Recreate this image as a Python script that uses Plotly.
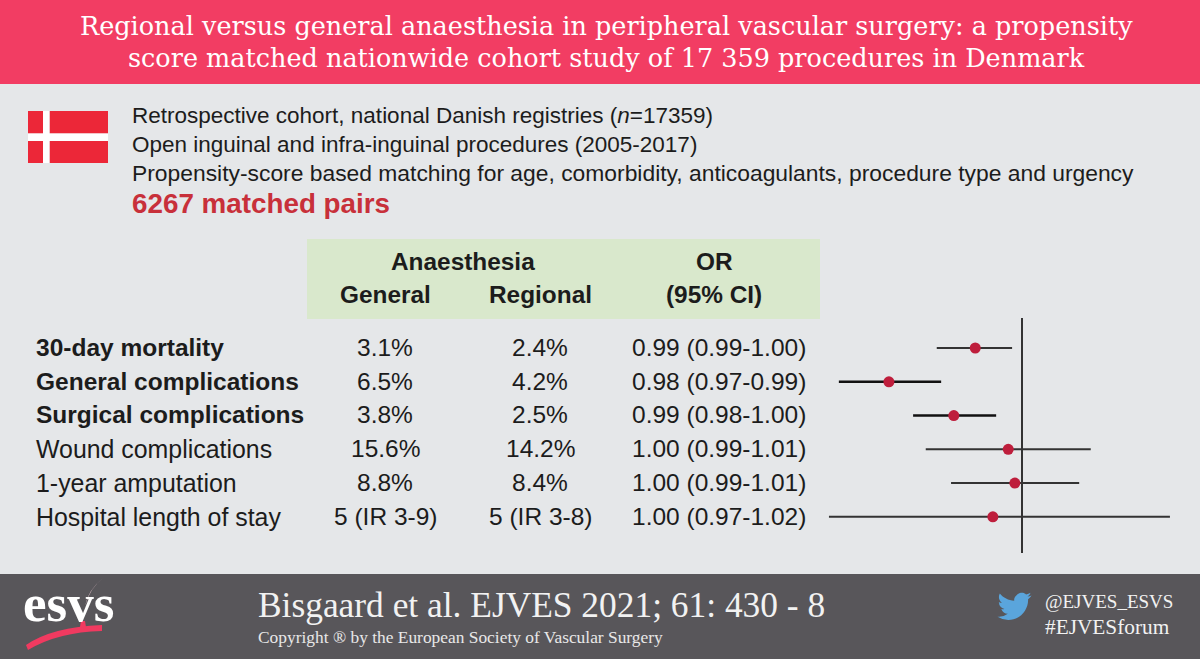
import plotly.graph_objects as go

W, H = 1200, 659

# ---- data ----
title_lines = ["Regional versus general anaesthesia in peripheral vascular surgery: a propensity",
               "score matched nationwide cohort study of 17 359 procedures in Denmark"]
intro_lines = ["Retrospective cohort, national Danish registries (<i>n</i>=17359)",
               "Open inguinal and infra-inguinal procedures (2005-2017)",
               "Propensity-score based matching for age, comorbidity, anticoagulants, procedure type and urgency"]
highlight = "6267 matched pairs"
outcomes = ["30-day mortality", "General complications", "Surgical complications",
            "Wound complications", "1-year amputation", "Hospital length of stay"]
emphasised = [True, True, True, False, False, False]
general = ["3.1%", "6.5%", "3.8%", "15.6%", "8.8%", "5 (IR 3-9)"]
regional = ["2.4%", "4.2%", "2.5%", "14.2%", "8.4%", "5 (IR 3-8)"]
or_text = ["0.99 (0.99-1.00)", "0.98 (0.97-0.99)", "0.99 (0.98-1.00)",
           "1.00 (0.99-1.01)", "1.00 (0.99-1.01)", "1.00 (0.97-1.02)"]
or_point = [0.9915, 0.9758, 0.9876, 0.9975, 0.9987, 0.9947]
or_low = [0.9845, 0.9667, 0.9802, 0.9825, 0.9871, 0.9649]
or_high = [0.9982, 0.9853, 0.9953, 1.0125, 1.0104, 1.0269]
citation = "Bisgaard et al. EJVES 2021; 61: 430 - 8"
copyright_line = "Copyright ® by the European Society of Vascular Surgery"
handles = ["@EJVES_ESVS", "#EJVESforum"]

# ---- style ----
SERIF = "Liberation Serif"
TITLE_SERIF = "DejaVu Serif"
SANS = "Liberation Sans"
RED_BAND = "#F23D63"
GREY_BODY = "#E5E7E9"
GREY_FOOT = "#58565A"
GREEN = "#D9E8CC"
FLAG = "#EC2738"
DOT = "#BE1E3C"
INK = "#1c1c1c"


def px(x):
    return x / W


def py(y):
    return 1 - y / H


def pt(x, y):
    return f"{px(x):.5f} {py(y):.5f}"


def rect(x0, y0, x1, y1, color):
    return dict(type="rect", xref="paper", yref="paper", x0=px(x0), x1=px(x1),
                y0=py(y1), y1=py(y0), fillcolor=color, line_width=0, layer="below")


def label(x, y, text, size, color=INK, anchor="left", family=SANS):
    return dict(x=px(x), y=py(y), xref="paper", yref="paper", text=text, showarrow=False,
                xanchor=anchor, yanchor="middle", align=anchor,
                font=dict(family=family, size=size, color=color))


def bird(ox, oy, s):
    def c(x, y):
        return pt(ox + x * s, oy + y * s)
    return ("M" + c(23.95, 4.57) + " Q" + c(22.6, 5.2) + " " + c(21.13, 5.35)
            + " Q" + c(22.7, 4.4) + " " + c(23.29, 2.62)
            + " Q" + c(21.9, 3.45) + " " + c(20.16, 3.81)
            + " C" + c(18.6, 2.2) + " " + c(16.0, 2.3) + " " + c(14.4, 3.6)
            + " C" + c(12.9, 4.8) + " " + c(11.4, 6.2) + " " + c(11.78, 8.29)
            + " C" + c(7.69, 8.1) + " " + c(4.07, 6.13) + " " + c(1.64, 3.16)
            + " Q" + c(0.97, 4.3) + " " + c(0.97, 5.64)
            + " C" + c(0.97, 7.35) + " " + c(1.84, 8.85) + " " + c(3.16, 9.73)
            + " Q" + c(1.9, 9.7) + " " + c(0.93, 9.12)
            + " L" + c(0.93, 9.18)
            + " Q" + c(1.2, 13.1) + " " + c(4.88, 14.0)
            + " Q" + c(3.8, 14.3) + " " + c(2.67, 14.09)
            + " Q" + c(3.9, 17.2) + " " + c(7.27, 17.51)
            + " Q" + c(4.6, 19.6) + " " + c(1.17, 19.61)
            + " Q" + c(0.58, 19.61) + " " + c(0, 19.54)
            + " Q" + c(3.4, 21.75) + " " + c(7.56, 21.75)
            + " C" + c(16.61, 21.75) + " " + c(21.56, 14.26) + " " + c(21.56, 7.77)
            + " Q" + c(21.56, 7.45) + " " + c(21.54, 7.14)
            + " Q" + c(23.0, 6.1) + " " + c(24, 4.59) + " Z")


fig = go.Figure()

# forest plot through its own OR axis
for i, (name, lo, hi) in enumerate(zip(outcomes, or_low, or_high)):
    thick = i in (1, 2)
    fig.add_trace(go.Scatter(x=[lo, hi], y=[name, name], mode="lines", showlegend=False,
                             hoverinfo="skip",
                             line=dict(color="#111111" if thick else "#333333",
                                       width=2.6 if thick else 2)))
fig.add_trace(go.Scatter(x=or_point, y=outcomes, mode="markers", showlegend=False,
                         marker=dict(color=DOT, size=11, line_width=0)))

shapes = [
    rect(0, 0, W, 84, RED_BAND),
    rect(0, 84, W, 574, GREY_BODY),
    rect(0, 574, W, H, GREY_FOOT),
    rect(307, 239, 820, 319, GREEN),
    # flag
    rect(28, 111, 43, 133.5, FLAG), rect(49.5, 111, 108, 133.5, FLAG),
    rect(28, 141, 43, 163, FLAG), rect(49.5, 141, 108, 163, FLAG),
    rect(28, 133.5, 108, 141, "#FFFFFF"), rect(43, 111, 49.5, 163, "#FFFFFF"),
    # no-effect line
    dict(type="line", xref="x", yref="y domain", x0=1, x1=1, y0=0, y1=1,
         line=dict(color="#333333", width=2), layer="above"),
    # logo swoosh
    dict(type="path", xref="paper", yref="paper", layer="above", fillcolor="#F03A60", line_width=0,
         path="M" + pt(26, 645) + " Q" + pt(52, 627) + " " + pt(102, 625) + " L" + pt(102, 631)
              + " Q" + pt(58, 632) + " " + pt(28, 650) + " Z"),
    dict(type="path", xref="paper", yref="paper", layer="above", fillcolor="#F03A60", line_width=0,
         path="M" + pt(81, 621) + " L" + pt(85, 621) + " L" + pt(86, 627) + " L" + pt(80, 627) + " Z"),
    dict(type="path", xref="paper", yref="paper", layer="above", fillcolor="#E8C8D0", line_width=0,
         path="M" + pt(103, 578) + " Q" + pt(90, 588) + " " + pt(85, 606) + " Q" + pt(88, 590) + " " + pt(103, 578) + " Z"),
    # bird
    dict(type="path", xref="paper", yref="paper", layer="above", fillcolor="#5AA5DC", line_width=0,
         path=bird(997.5, 589, 1.42)),
]

ann = [label(606.5, 26, title_lines[0], 25.5, "#FFFFFF", "center", TITLE_SERIF),
       label(606.5, 57.5, title_lines[1], 25.5, "#FFFFFF", "center", TITLE_SERIF)]
for y, line, size in zip([115, 144, 173], intro_lines, [22.5, 22.5, 22.85]):
    ann.append(label(130, y, line, size))
ann.append(label(130, 203.5, f"<b>{highlight}</b>", 27.8, "#C8303A"))

ann += [label(462.5, 261.5, "<b>Anaesthesia</b>", 24.4, anchor="center"),
        label(385, 295, "<b>General</b>", 24.4, anchor="center"),
        label(540, 295, "<b>Regional</b>", 24.4, anchor="center"),
        label(714, 261.5, "<b>OR</b>", 24.4, anchor="center"),
        label(714, 295, "<b>(95% CI)</b>", 24.4, anchor="center")]

row_y = [347.5, 381, 414.5, 448.5, 482.5, 516.5]
for y, name, bold, g, r, o in zip(row_y, outcomes, emphasised, general, regional, or_text):
    ann.append(label(34, y, f"<b>{name}</b>" if bold else name, 24.5 if bold else 24.9))
    ann.append(label(385, y, g, 24.5, anchor="center"))
    ann.append(label(540, y, r, 24.5, anchor="center"))
    ann.append(label(718.5, y, o, 24.5, anchor="center"))

ann += [label(21, 603, "<b>esvs</b>", 53, "#FFFFFF", "left", SERIF),
        label(256, 605, citation, 35.4, "#F2F2F2", "left", SERIF),
        label(256, 637, copyright_line, 17.4, "#E8E8E8", "left", SERIF),
        label(1043, 601, handles[0], 19, "#F2F2F2", "left", SERIF),
        label(1043, 627, handles[1], 21.3, "#F2F2F2", "left", SERIF)]

fig.update_layout(
    width=W, height=H, autosize=False, margin=dict(l=0, r=0, t=0, b=0),
    paper_bgcolor=GREY_BODY, plot_bgcolor="rgba(0,0,0,0)", showlegend=False,
    shapes=shapes, annotations=ann,
    xaxis=dict(domain=[px(820), px(1190)], range=[0.96327, 1.03055], visible=False, fixedrange=True),
    yaxis=dict(domain=[py(553), py(318)], type="category", categoryorder="array",
               categoryarray=outcomes, range=[6.07, -0.888], visible=False, fixedrange=True),
)
fig.write_html("out.html", config=dict(displayModeBar=False),
               post_script="document.body.style.margin='0';document.documentElement.style.overflow='hidden';")
